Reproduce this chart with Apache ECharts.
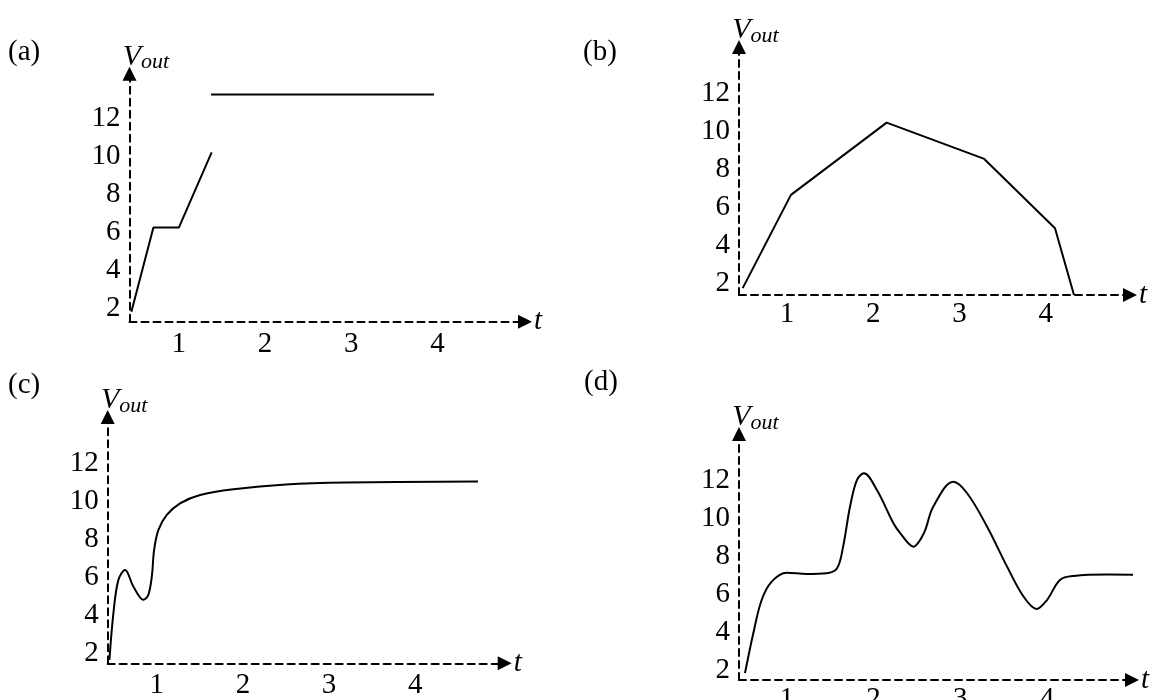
<!DOCTYPE html>
<html>
<head>
<meta charset="utf-8">
<script src="https://cdn.jsdelivr.net/npm/echarts@6/dist/echarts.min.js"></script>
<style>
  html, body { margin: 0; padding: 0; background: #fff; }
  #chart { width: 1157px; height: 700px; }
</style>
</head>
<body>
<div id="chart"></div>
<script>
// tick labels
const yTicks = [2, 4, 6, 8, 10, 12];
const xTicks = [1, 2, 3, 4];
const panelLabels = ['(a)', '(b)', '(c)', '(d)'];

// (a) ramp, then a separate flat level
const curveA1 = [[0.452, 1.82], [0.707, 6.26], [1.003, 6.26], [1.382, 10.21]];
const curveA2 = [[1.375, 13.26], [3.958, 13.26]];
// (b) piecewise line
const curveB = [[0.487, 1.74], [1.046, 6.65], [2.155, 10.45], [3.286, 8.54], [4.106, 4.89], [4.326, 1.38]];
// (c) wiggle then settle near 11
const curveC = [[0.45, 1.65], [0.496, 4.1], [0.554, 5.86], [0.632, 6.38], [0.728, 5.51], [0.844, 4.81],
  [0.9, 5.05], [0.942, 6.03], [0.969, 7.44], [1.019, 8.49], [1.116, 9.28], [1.27, 9.89], [1.503, 10.33],
  [1.89, 10.63], [2.5, 10.88], [3.2, 10.98], [4.73, 11.03]];
// (d) two humps and a dip
const curveD = [[0.519, 1.83], [0.615, 3.93], [0.711, 5.68], [0.827, 6.65], [1.0, 7.12], [1.23, 7.05],
  [1.46, 7.09], [1.58, 7.35], [1.65, 8.49], [1.73, 10.6], [1.81, 12.0], [1.89, 12.35], [2.04, 11.47],
  [2.23, 9.72], [2.31, 9.19], [2.46, 8.49], [2.58, 9.19], [2.69, 10.6], [2.92, 11.91], [3.08, 11.3],
  [3.31, 9.54], [3.54, 7.44], [3.73, 5.86], [3.88, 5.21], [4.0, 5.68], [4.15, 6.74], [4.31, 6.95],
  [4.7, 7.02], [5.13, 7.0]];

const FONT = "'Liberation Serif', 'Times New Roman', serif";

// panel frames: grid box, axis ranges, label offsets
const panels = [
  { left: 129.5, top: 73.7, width: 395.5, height: 248, xMin: 0.43, xMax: 5.013, yMin: 1.3, yMax: 14.35, xMargin: 8, title: [8, 38] },
  { left: 739, top: 47, width: 391, height: 248, xMin: 0.444, xMax: 4.975, yMin: 1.38, yMax: 14.43, xMargin: 5, title: [583, 38] },
  { left: 107.7, top: 417, width: 397, height: 246.3, xMin: 0.43, xMax: 5.04, yMin: 1.47, yMax: 14.43, xMargin: 8, title: [8, 371] },
  { left: 739, top: 434, width: 393, height: 246, xMin: 0.45, xMax: 4.98, yMin: 1.47, yMax: 14.42, xMargin: 5, title: [584, 368] }
];

const axisLine = {
  show: true,
  onZero: false,
  symbol: ['none', 'triangle'],
  symbolSize: [14, 14],
  lineStyle: { color: '#000', width: 2, type: [7, 5] }
};

const grids = [], xAxes = [], yAxes = [], titles = [];
panels.forEach((p, i) => {
  grids.push({ left: p.left, top: p.top, width: p.width, height: p.height, outerBoundsMode: 'none' });
  titles.push({
    text: panelLabels[i], left: p.title[0], top: p.title[1], padding: 0,
    textStyle: { fontFamily: FONT, fontSize: 29, fontWeight: 'normal', color: '#000' }
  });
  xAxes.push({
    type: 'value', gridIndex: i, min: p.xMin, max: p.xMax,
    axisLine: axisLine,
    axisTick: { show: false },
    splitLine: { show: false },
    axisLabel: { customValues: xTicks, color: '#000', fontFamily: FONT, fontSize: 29, margin: p.xMargin },
    name: 't', nameLocation: 'end', nameGap: 9,
    nameTextStyle: { fontFamily: FONT, fontStyle: 'italic', fontSize: 29, color: '#000', padding: [0, 0, 10, 0] }
  });
  yAxes.push({
    type: 'value', gridIndex: i, min: p.yMin, max: p.yMax,
    axisLine: axisLine,
    axisTick: { show: false },
    splitLine: { show: false },
    axisLabel: { customValues: yTicks, color: '#000', fontFamily: FONT, fontSize: 29, margin: 9 },
    name: '{v|V}{s|out}', nameLocation: 'end', nameGap: 0,
    nameTextStyle: {
      align: 'center', padding: [0, 0, 0, 33],
      rich: {
        v: { fontFamily: FONT, fontStyle: 'italic', fontSize: 30, color: '#000' },
        s: { fontFamily: FONT, fontStyle: 'italic', fontSize: 22, color: '#000', padding: [12, 0, 0, 0] }
      }
    }
  });
});

function lineSeries(idx, data, smooth) {
  return {
    type: 'line', xAxisIndex: idx, yAxisIndex: idx, data: data,
    showSymbol: false, smooth: smooth, clip: false,
    lineStyle: { color: '#000', width: 2 }
  };
}

const chart = echarts.init(document.getElementById('chart'));
chart.setOption({
  backgroundColor: '#fff',
  animation: false,
  title: titles,
  grid: grids,
  xAxis: xAxes,
  yAxis: yAxes,
  series: [
    lineSeries(0, curveA1, false),
    lineSeries(0, curveA2, false),
    lineSeries(1, curveB, false),
    lineSeries(2, curveC, 0.35),
    lineSeries(3, curveD, 0.35)
  ]
});
</script>
</body>
</html>
